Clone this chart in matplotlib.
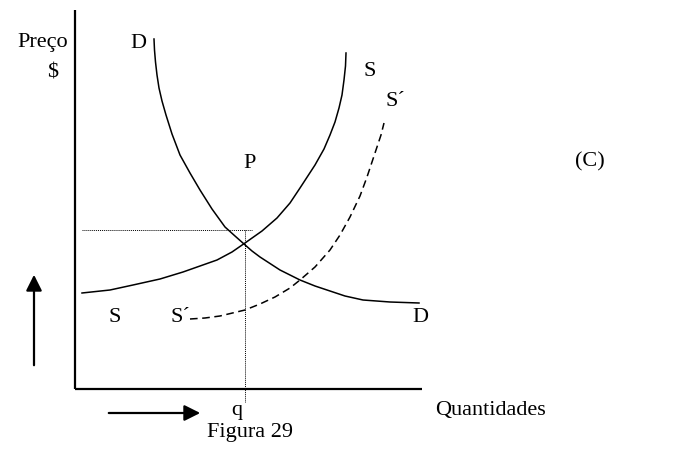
import matplotlib.pyplot as plt

plt.rcParams['font.family'] = ['Liberation Serif', 'DejaVu Serif']

# curve points (pixel positions, y down)
s_x = [82, 110, 133, 160, 183, 200, 217, 232, 245, 262, 277, 290, 300, 315, 324, 330, 335, 339, 342, 344, 345.5, 346]
s_y = [293, 290, 285, 279, 272, 266, 260, 252, 243, 231, 218, 203, 188, 165, 149, 135, 122, 108, 95, 80, 66, 53]

d_x = [154, 154.5, 155.5, 157, 159, 162, 166, 172, 180, 190, 200, 212, 225, 235, 244, 252, 260, 280, 300, 315, 330, 345, 363, 390, 419]
d_y = [39, 50, 62, 75, 88, 101, 115, 134, 155, 173, 190, 209, 227, 236, 244, 251, 257, 270, 280, 286, 291, 296, 300, 302, 303]

s2_x = [190, 205, 220, 245, 260, 275, 290, 300, 315, 330, 340, 350, 360, 367, 372, 377, 381, 384]
s2_y = [319, 318, 316, 310, 304, 297, 288, 280, 267, 250, 235, 217, 196, 177, 162, 147, 135, 123]

eq_x, eq_y = 245, 230

fig = plt.figure(figsize=(6.93, 4.58), dpi=100)
ax = fig.add_axes([0, 0, 1, 1])
ax.set_xlim(0, 693)
ax.set_ylim(458, 0)
ax.axis('off')

# axes
ax.plot([75, 75], [10, 389], color='black', lw=1.6, solid_capstyle='butt')
ax.plot([75, 422], [389, 389], color='black', lw=1.6, solid_capstyle='butt')

# curves
ax.plot(s_x, s_y, color='black', lw=1.1)
ax.plot(d_x, d_y, color='black', lw=1.1)
ax.plot(s2_x, s2_y, color='black', lw=1.1, ls=(0, (5, 3)))

# equilibrium guides
ax.plot([82, 252], [eq_y, eq_y], color='black', lw=0.7, ls=(0, (1, 1)))
ax.plot([eq_x, eq_x], [eq_y, 402], color='black', lw=0.7, ls=(0, (1, 1)))

# arrows
ax.annotate('', xy=(34, 272), xytext=(34, 368),
            arrowprops=dict(arrowstyle='-|>', color='black', lw=1.6, mutation_scale=24))
ax.annotate('', xy=(203, 413), xytext=(106, 413),
            arrowprops=dict(arrowstyle='-|>', color='black', lw=1.6, mutation_scale=24))

fs = 16
ax.text(43, 43, 'Preço', fontsize=fs, ha='center', va='center')
ax.text(53, 73, '$', fontsize=fs, ha='center', va='center')
ax.text(138, 43, 'D', fontsize=fs, ha='center', va='center')
ax.text(370, 72, 'S', fontsize=fs, ha='center', va='center')
ax.text(395, 102, 'S´', fontsize=fs, ha='center', va='center')
ax.text(250, 164, 'P', fontsize=fs, ha='center', va='center')
ax.text(590, 162, '(C)', fontsize=fs, ha='center', va='center')
ax.text(115, 318, 'S', fontsize=fs, ha='center', va='center')
ax.text(180, 318, 'S´', fontsize=fs, ha='center', va='center')
ax.text(420, 317, 'D', fontsize=fs, ha='center', va='center')
ax.text(237, 410, 'q', fontsize=fs, ha='center', va='center')
ax.text(490, 410, 'Quantidades', fontsize=fs, ha='center', va='center')
ax.text(250, 433, 'Figura 29', fontsize=fs, ha='center', va='center')

fig.savefig('out.png', dpi=100)
